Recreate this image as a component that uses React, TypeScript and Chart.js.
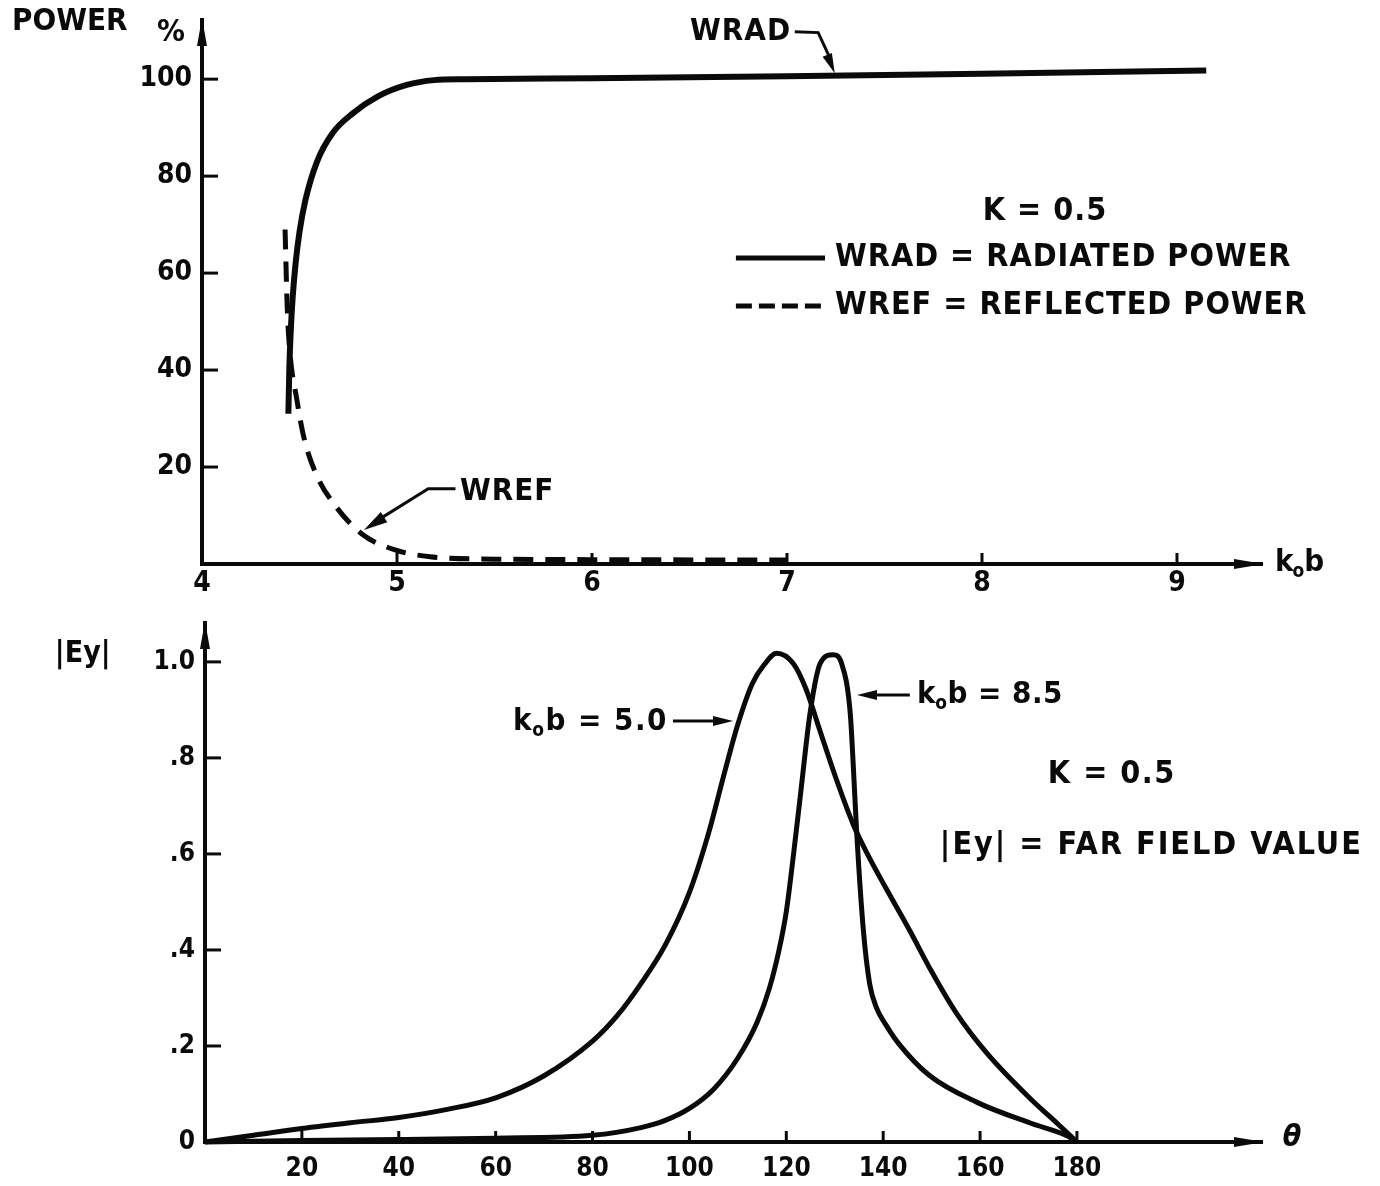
import React, { useEffect, useRef } from 'react';
import { Chart, registerables } from 'chart.js';

Chart.register(...registerables);

// ---------- Top chart data: power (%) vs k0b ----------
const topXTicks = [4, 5, 6, 7, 8, 9];
const topYTicks = [20, 40, 60, 80, 100];

const wradX = [4.443, 4.448, 4.455, 4.465, 4.48, 4.5, 4.53, 4.59, 4.67, 4.775, 4.9, 5.05, 5.19, 5.35, 6.0, 7.0, 8.0, 9.15];
const wradY = [31, 40.5, 48, 55, 62, 68.5, 75, 83, 88.9, 93, 96.4, 98.8, 99.8, 100, 100.2, 100.6, 101.1, 101.8];

const wrefX = [4.426, 4.437, 4.45, 4.486, 4.523, 4.588, 4.682, 4.82, 4.99, 5.17, 5.5, 6.0, 7.0];
const wrefY = [69, 53, 44, 34, 26, 18.3, 12.1, 6.2, 2.9, 1.5, 1.0, 0.9, 0.8];

// ---------- Bottom chart data: |Ey| vs theta ----------
const botXTicks = [20, 40, 60, 80, 100, 120, 140, 160, 180];
const botYTicks = [0, 0.2, 0.4, 0.6, 0.8, 1.0];
const botYTickLabels = ['0', '.2', '.4', '.6', '.8', '1.0'];

const kob50X = [0, 10, 20, 30, 40, 50, 60, 70, 80, 85, 90, 95, 100, 104, 107, 110, 113, 115.5, 118, 121.4, 124, 127, 130, 133.8, 137, 140.5, 145.5, 150, 155, 161.4, 170.5, 176, 180];
const kob50Y = [0, 0.014, 0.028, 0.04, 0.051, 0.068, 0.092, 0.138, 0.21, 0.262, 0.33, 0.41, 0.52, 0.645, 0.76, 0.87, 0.955, 0.995, 1.018, 0.997, 0.945, 0.855, 0.765, 0.662, 0.595, 0.53, 0.44, 0.355, 0.27, 0.185, 0.089, 0.038, 0];

const kob85X = [0, 20, 40, 60, 80, 90, 95, 100, 105, 110, 114, 116.5, 118.5, 120, 121.5, 123, 124.9, 127.0, 129.7, 131.4, 133.2, 133.8, 134.5, 135.9, 137.2, 138.6, 140.5, 143.2, 149.5, 159.5, 170.5, 177.7, 180];
const kob85Y = [0, 0.003, 0.005, 0.008, 0.014, 0.03, 0.045, 0.07, 0.11, 0.175, 0.25, 0.32, 0.4, 0.48, 0.6, 0.73, 0.893, 0.997, 1.015, 0.997, 0.893, 0.789, 0.65, 0.442, 0.33, 0.28, 0.245, 0.205, 0.139, 0.082, 0.039, 0.014, 0];

const FAMILY = '"DejaVu Sans Condensed", "Liberation Sans Narrow", "DejaVu Sans", sans-serif';
const bold = (s: number) => `bold ${s}px ${FAMILY}`;
const INK = '#0a0a0a';

const toPts = (xs: number[], ys: number[]) => xs.map((x, i) => ({ x, y: ys[i] }));

function arrowHead(ctx: CanvasRenderingContext2D, tipX: number, tipY: number, fromX: number, fromY: number, len: number, half: number) {
  const a = Math.atan2(tipY - fromY, tipX - fromX);
  const bx = tipX - len * Math.cos(a);
  const by = tipY - len * Math.sin(a);
  ctx.beginPath();
  ctx.moveTo(tipX, tipY);
  ctx.lineTo(bx + half * Math.sin(a), by - half * Math.cos(a));
  ctx.lineTo(bx - half * Math.sin(a), by + half * Math.cos(a));
  ctx.closePath();
  ctx.fill();
}

function setSpacing(ctx: CanvasRenderingContext2D, px: number) {
  (ctx as any).letterSpacing = `${px}px`;
}

// draws "k" + subscript "o" + rest
function drawKob(ctx: CanvasRenderingContext2D, x: number, y: number, rest: string, size: number, spacing: number) {
  ctx.textAlign = 'left';
  ctx.textBaseline = 'middle';
  setSpacing(ctx, spacing);
  ctx.font = bold(size);
  ctx.fillText('k', x, y);
  let cx = x + ctx.measureText('k').width;
  ctx.font = bold(Math.round(size * 0.62));
  ctx.fillText('o', cx - 1, y + size * 0.3);
  cx += ctx.measureText('o').width - 1;
  ctx.font = bold(size);
  ctx.fillText('b' + rest, cx, y);
  setSpacing(ctx, 0);
}

type Geo = { width: number; height: number; left: number; top: number; bottom: number; right: number };

function buildConfig(opts: {
  geo: Geo;
  xMin: number; xMax: number; yMin: number; yMax: number;
  xTicks: number[]; yTicks: number[];
  yLabel: (v: number) => string;
  tickFont: number;
  xPad: number; yPad: number;
  datasets: any[];
  draw: (ctx: CanvasRenderingContext2D, X: (v: number) => number, Y: (v: number) => number) => void;
}) {
  const g = opts.geo;
  const plugin = {
    id: 'drafting',
    afterDraw(chart: any) {
      const ctx: CanvasRenderingContext2D = chart.ctx;
      const xs = chart.scales.x;
      const ys = chart.scales.y;
      const X = (v: number) => xs.getPixelForValue(v);
      const Y = (v: number) => ys.getPixelForValue(v);
      const ca = chart.chartArea;
      ctx.save();
      ctx.fillStyle = INK;
      ctx.strokeStyle = INK;
      ctx.lineCap = 'butt';
      ctx.lineWidth = 3;
      opts.xTicks.forEach((v) => {
        if (v === opts.xMin) return;
        ctx.beginPath();
        ctx.moveTo(X(v), ca.bottom);
        ctx.lineTo(X(v), ca.bottom - 11);
        ctx.stroke();
      });
      opts.yTicks.forEach((v) => {
        if (v === opts.yMin) return;
        ctx.beginPath();
        ctx.moveTo(ca.left, Y(v));
        ctx.lineTo(ca.left + 16, Y(v));
        ctx.stroke();
      });
      arrowHead(ctx, ca.left, ca.top - 2, ca.left, ca.top + 40, 28, 5);
      arrowHead(ctx, ca.right + 2, ca.bottom, ca.right - 40, ca.bottom, 30, 5);
      opts.draw(ctx, X, Y);
      ctx.restore();
    },
  };
  return {
    type: 'line',
    data: { datasets: opts.datasets },
    options: {
      animation: false,
      responsive: false,
      devicePixelRatio: 1,
      events: [],
      layout: { padding: { left: 0, top: g.top, right: g.width - g.right, bottom: 0 } },
      plugins: { legend: { display: false }, tooltip: { enabled: false }, title: { display: false } },
      elements: { point: { radius: 0 } },
      scales: {
        x: {
          type: 'linear',
          min: opts.xMin,
          max: opts.xMax,
          grid: { display: false, drawTicks: false },
          border: { display: true, color: INK, width: 4 },
          ticks: {
            color: INK,
            font: { family: FAMILY, size: opts.tickFont, weight: 'bold' },
            padding: opts.xPad,
            maxRotation: 0,
            autoSkip: false,
            callback: (v: number) => String(v),
          },
          afterBuildTicks: (s: any) => { s.ticks = opts.xTicks.map((value) => ({ value })); },
          afterFit: (s: any) => { s.height = g.height - g.bottom; s.paddingLeft = 0; s.paddingRight = 0; },
        },
        y: {
          type: 'linear',
          min: opts.yMin,
          max: opts.yMax,
          grid: { display: false, drawTicks: false },
          border: { display: true, color: INK, width: 4 },
          ticks: {
            color: INK,
            font: { family: FAMILY, size: opts.tickFont, weight: 'bold' },
            padding: opts.yPad,
            autoSkip: false,
            callback: (v: number) => opts.yLabel(v),
          },
          afterBuildTicks: (s: any) => { s.ticks = opts.yTicks.map((value) => ({ value })); },
          afterFit: (s: any) => { s.width = g.left; s.paddingTop = 0; s.paddingBottom = 0; },
        },
      },
    },
    plugins: [plugin],
  } as any;
}

function TopChart() {
  const ref = useRef<HTMLCanvasElement>(null);
  useEffect(() => {
    const geo: Geo = { width: 1380, height: 600, left: 202, top: 20, bottom: 564, right: 1262 };
    const cfg = buildConfig({
      geo,
      xMin: 4, xMax: 9.436, yMin: 0, yMax: 112.2,
      xTicks: topXTicks, yTicks: topYTicks,
      yLabel: (v) => String(v),
      tickFont: 28, xPad: 3, yPad: 10,
      datasets: [
        {
          label: 'WRAD',
          data: toPts(wradX, wradY),
          borderColor: INK, borderWidth: 6, cubicInterpolationMode: 'monotone', clip: false, fill: false,
        },
        {
          label: 'WREF',
          data: toPts(wrefX, wrefY),
          borderColor: INK, borderWidth: 5, borderDash: [20, 12], cubicInterpolationMode: 'monotone', clip: false, fill: false,
        },
      ],
      draw: (ctx, X, Y) => {
        ctx.textBaseline = 'middle';
        ctx.font = bold(31);
        ctx.textAlign = 'left';
        ctx.fillText('POWER', X(3.026), Y(111.75));
        ctx.textAlign = 'center';
        ctx.fillText('%', X(3.841), Y(109.5));
        // WRAD label + leader
        ctx.textAlign = 'left';
        setSpacing(ctx, 1);
        ctx.fillText('WRAD', X(6.503), Y(109.7));
        setSpacing(ctx, 0);
        ctx.lineWidth = 3;
        ctx.beginPath();
        ctx.moveTo(X(7.04), Y(109.8));
        ctx.lineTo(X(7.16), Y(109.6));
        ctx.lineTo(X(7.23), Y(103.5));
        ctx.stroke();
        arrowHead(ctx, X(7.245), Y(101.2), X(7.16), Y(109.6), 20, 5);
        // kappa note
        ctx.font = bold(32);
        setSpacing(ctx, 1);
        ctx.textAlign = 'center';
        ctx.fillText('K = 0.5', X(8.323), Y(72.6));
        // legend
        ctx.lineWidth = 5;
        ctx.beginPath();
        ctx.moveTo(X(6.738), Y(63.1));
        ctx.lineTo(X(7.195), Y(63.1));
        ctx.stroke();
        ctx.setLineDash([16, 7]);
        ctx.beginPath();
        ctx.moveTo(X(6.738), Y(53.2));
        ctx.lineTo(X(7.195), Y(53.2));
        ctx.stroke();
        ctx.setLineDash([]);
        ctx.textAlign = 'left';
        ctx.fillText('WRAD = RADIATED POWER', X(7.246), Y(63.1));
        ctx.fillText('WREF = REFLECTED POWER', X(7.246), Y(53.2));
        // WREF label + leader
        ctx.font = bold(31);
        ctx.fillText('WREF', X(5.323), Y(14.85));
        setSpacing(ctx, 0);
        ctx.lineWidth = 3;
        ctx.beginPath();
        ctx.moveTo(X(5.30), Y(15.5));
        ctx.lineTo(X(5.16), Y(15.5));
        ctx.lineTo(X(4.9), Y(9.0));
        ctx.stroke();
        arrowHead(ctx, X(4.83), Y(7.0), X(5.16), Y(15.5), 24, 6);
        // axis label
        drawKob(ctx, X(9.503), Y(0.2), '', 31, 0);
      },
    });
    const chart = new Chart(ref.current as HTMLCanvasElement, cfg);
    return () => chart.destroy();
  }, []);
  return <canvas ref={ref} width={1380} height={600} style={{ position: 'absolute', left: 0, top: 0, width: 1380, height: 600 }} />;
}

function BottomChart() {
  const ref = useRef<HTMLCanvasElement>(null);
  useEffect(() => {
    const geo: Geo = { width: 1380, height: 586, left: 205, top: 23, bottom: 542, right: 1262 };
    const cfg = buildConfig({
      geo,
      xMin: 0, xMax: 218.2, yMin: 0, yMax: 1.081,
      xTicks: botXTicks, yTicks: botYTicks,
      yLabel: (v) => botYTickLabels[botYTicks.findIndex((t) => Math.abs(t - v) < 1e-6)] ?? '',
      tickFont: 26, xPad: 12, yPad: 10,
      datasets: [
        {
          label: 'k0b = 5.0',
          data: toPts(kob50X, kob50Y),
          borderColor: INK, borderWidth: 5, cubicInterpolationMode: 'monotone', clip: false, fill: false,
        },
        {
          label: 'k0b = 8.5',
          data: toPts(kob85X, kob85Y),
          borderColor: INK, borderWidth: 5, cubicInterpolationMode: 'monotone', clip: false, fill: false,
        },
      ],
      draw: (ctx, X, Y) => {
        ctx.textBaseline = 'middle';
        ctx.font = bold(30);
        ctx.textAlign = 'left';
        ctx.fillText('|Ey|', X(-31.0), Y(1.017));
        // k0b = 5.0 label + arrow
        drawKob(ctx, X(63.6), Y(0.875), ' = 5.0', 31, 1.5);
        ctx.lineWidth = 3;
        ctx.beginPath();
        ctx.moveTo(X(96.6), Y(0.877));
        ctx.lineTo(X(106), Y(0.877));
        ctx.stroke();
        arrowHead(ctx, X(109.0), Y(0.877), X(96.6), Y(0.877), 20, 5);
        // k0b = 8.5 label + arrow
        ctx.beginPath();
        ctx.moveTo(X(145.5), Y(0.931));
        ctx.lineTo(X(137.5), Y(0.931));
        ctx.stroke();
        arrowHead(ctx, X(134.6), Y(0.931), X(145.5), Y(0.931), 20, 5);
        drawKob(ctx, X(147.0), Y(0.931), ' = 8.5', 31, 0.5);
        // notes
        ctx.font = bold(32);
        setSpacing(ctx, 1.5);
        ctx.textAlign = 'center';
        ctx.fillText('K = 0.5', X(187.2), Y(0.765));
        ctx.textAlign = 'left';
        setSpacing(ctx, 2);
        ctx.fillText('|Ey| = FAR FIELD VALUE', X(151.7), Y(0.617));
        setSpacing(ctx, 0);
        // theta axis label
        ctx.font = `italic bold 30px ${FAMILY}`;
        ctx.textAlign = 'center';
        ctx.fillText('θ', X(224.4), Y(0.008));
      },
    });
    const chart = new Chart(ref.current as HTMLCanvasElement, cfg);
    return () => chart.destroy();
  }, []);
  return <canvas ref={ref} width={1380} height={586} style={{ position: 'absolute', left: 0, top: 600, width: 1380, height: 586 }} />;
}

export default function App() {
  return (
    <div style={{ position: 'fixed', left: 0, top: 0, width: 1380, height: 1186, background: '#ffffff', overflow: 'hidden' }}>
      <TopChart />
      <BottomChart />
    </div>
  );
}
